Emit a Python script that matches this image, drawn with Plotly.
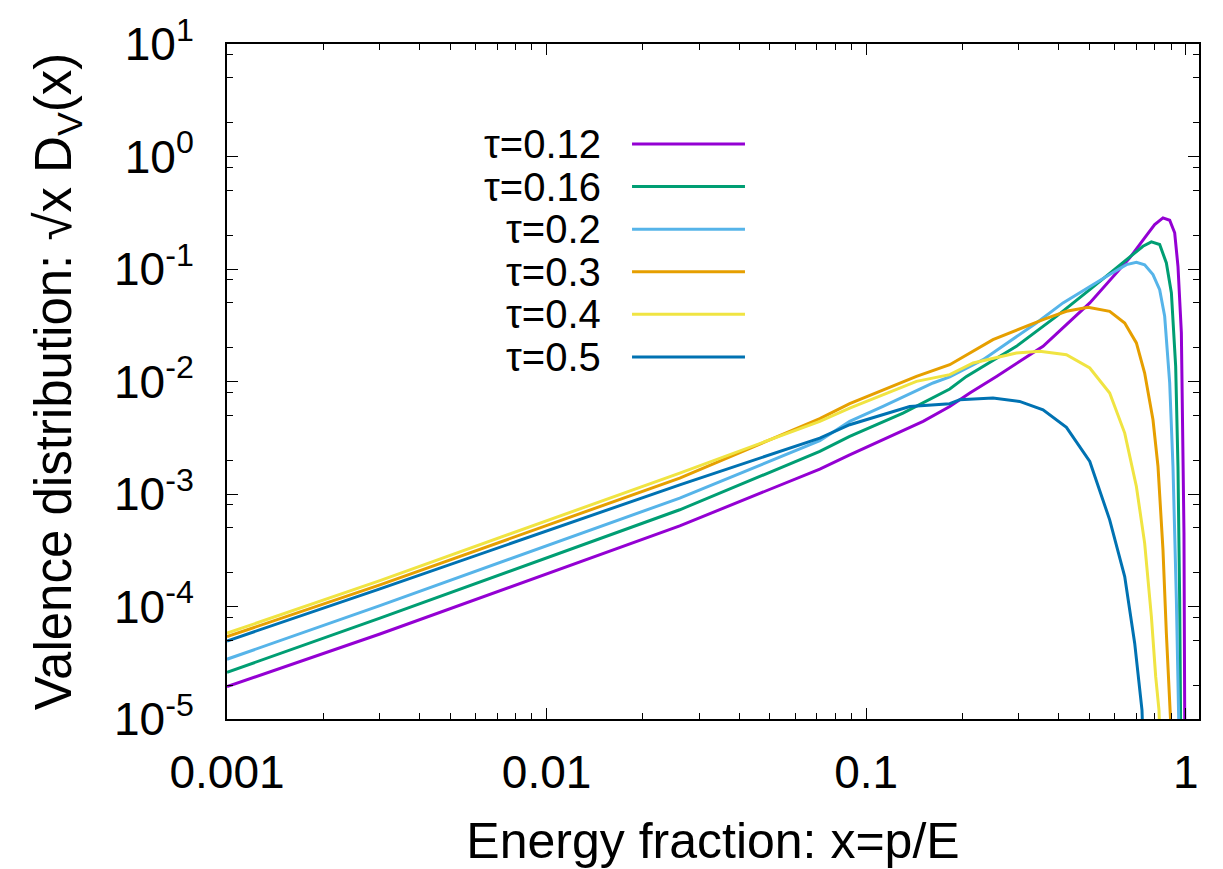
import plotly.graph_objects as go

# ---- data (x = p/E, y = sqrt(x) D_V(x)) ----
labels = ["τ=0.12", "τ=0.16", "τ=0.2", "τ=0.3", "τ=0.4", "τ=0.5"]
colors = ["#9400d3", "#009e73", "#56b4e9", "#e69f00", "#f0e442", "#0072b2"]

x_t012 = [0.001, 0.00301, 0.0261, 0.0716, 0.0888, 0.1507, 0.1826, 0.211, 0.2557, 0.3576,
          0.5008, 0.6678, 0.7436, 0.7993, 0.8486, 0.8906, 0.9232, 0.9454, 0.9687, 0.9799,
          0.9871, 0.9922, 0.9935]
y_t012 = [1.94e-5, 5.70e-5, 5.21e-4, 1.666e-3, 2.23e-3, 4.42e-3, 6.0e-3, 7.91e-3, 0.0111, 0.02053,
          0.04995, 0.1255, 0.1891, 0.2484, 0.285, 0.2713, 0.2097, 0.1057, 0.0272, 3.50e-3,
          4.52e-4, 1.2e-5, 8e-6]

x_t016 = [0.001, 0.00301, 0.0261, 0.0716, 0.0888, 0.1304, 0.1826, 0.206, 0.2952, 0.3937,
          0.5008, 0.6522, 0.7347, 0.7806, 0.8286, 0.8695, 0.9016, 0.9298, 0.9454, 0.957,
          0.9618, 0.964]
y_t016 = [2.60e-5, 7.87e-5, 7.24e-4, 2.39e-3, 3.25e-3, 5.24e-3, 8.58e-3, 0.0111, 0.02053, 0.03796,
          0.06559, 0.1213, 0.1593, 0.1743, 0.1649, 0.1133, 0.0613, 0.01363, 1.757e-3, 1.145e-4,
          1.2e-5, 8e-6]

x_t020 = [0.001, 0.00301, 0.0261, 0.0716, 0.0888, 0.1129, 0.1619, 0.1826, 0.2321, 0.3408,
          0.4129, 0.5008, 0.578, 0.6522, 0.7006, 0.7436, 0.7896, 0.8286, 0.859, 0.8906,
          0.912, 0.9346, 0.9502, 0.9518]
y_t020 = [3.40e-5, 1.019e-4, 9.2e-4, 2.975e-3, 4.42e-3, 6.0e-3, 9.70e-3, 0.01097, 0.01563, 0.03315,
          0.04995, 0.07019, 0.0892, 0.1094, 0.1147, 0.1088, 0.0892, 0.0656, 0.038, 9.70e-3,
          1.757e-3, 1.145e-4, 1.2e-5, 8e-6]

x_t030 = [0.001, 0.00301, 0.0261, 0.0716, 0.0888, 0.1437, 0.1826, 0.2493, 0.3576, 0.4232,
          0.4945, 0.578, 0.6441, 0.7006, 0.7436, 0.7896, 0.8186, 0.8486, 0.8695, 0.8951, 0.8993]
y_t030 = [5.40e-5, 1.557e-4, 1.385e-3, 4.67e-3, 6.35e-3, 0.0111, 0.01411, 0.02355, 0.03548, 0.04206,
          0.04565, 0.04206, 0.03315, 0.02202, 0.0119, 4.57e-3, 1.757e-3, 3.19e-4, 5.79e-5, 1.2e-5, 8e-6]

x_t040 = [0.001, 0.00301, 0.0261, 0.0716, 0.0888, 0.1437, 0.1826, 0.2161, 0.2952, 0.3491,
          0.4232, 0.5008, 0.578, 0.6441, 0.7006, 0.7436, 0.7806, 0.8052, 0.8245, 0.8285]
y_t040 = [5.79e-5, 1.70e-4, 1.535e-3, 4.42e-3, 5.81e-3, 0.01002, 0.0115, 0.01461, 0.01793, 0.01853,
          0.01732, 0.01319, 7.91e-3, 3.48e-3, 1.166e-3, 3.66e-4, 8.13e-5, 2.38e-5, 1.2e-5, 8e-6]

x_t050 = [0.001, 0.00301, 0.0261, 0.0716, 0.0888, 0.1369, 0.1826, 0.1963, 0.2493, 0.302,
          0.3576, 0.4232, 0.5008, 0.578, 0.6441, 0.6921, 0.7295, 0.733]
y_t050 = [4.94e-5, 1.435e-4, 1.207e-3, 3.14e-3, 4.13e-3, 6.0e-3, 6.35e-3, 6.89e-3, 7.13e-3, 6.65e-3,
          5.61e-3, 3.91e-3, 1.946e-3, 5.89e-4, 1.845e-4, 4.72e-5, 1.2e-5, 8e-6]

xs = [x_t012, x_t016, x_t020, x_t030, x_t040, x_t050]
ys = [y_t012, y_t016, y_t020, y_t030, y_t040, y_t050]

x_tickvals = [0.001, 0.01, 0.1, 1]
x_ticktext = ["0.001", "0.01", "0.1", "1"]
y_tickvals = [1e-5, 1e-4, 1e-3, 1e-2, 1e-1, 1, 10]
y_ticktext = ["10<sup>-5</sup>", "10<sup>-4</sup>", "10<sup>-3</sup>", "10<sup>-2</sup>",
              "10<sup>-1</sup>", "10<sup>0</sup>", "10<sup>1</sup>"]
x_minor = [m * 10.0 ** k for k in (-3, -2, -1) for m in range(2, 10)]
y_minor = [m * 10.0 ** k for k in range(-5, 1) for m in (2, 5, 8)]

FONT = "Liberation Sans, Arial, Helvetica, sans-serif"

fig = go.Figure()
for lab, col, xv, yv in zip(labels, colors, xs, ys):
    fig.add_trace(go.Scatter(x=xv, y=yv, mode="lines", name=lab,
                             line=dict(color=col, width=3), showlegend=False))

# manual gnuplot-style key (text right, sample line left)
key_text_x = 0.3868
key_line_x0, key_line_x1 = 0.4167, 0.5329
key_y0, key_dy = 0.8519, 0.0631
for i, (lab, col) in enumerate(zip(labels, colors)):
    yy = key_y0 - i * key_dy
    fig.add_annotation(x=key_text_x, y=yy, xref="paper", yref="paper", text=lab,
                       showarrow=False, xanchor="right", yanchor="middle",
                       font=dict(size=40, color="black", family=FONT))
    fig.add_shape(type="line", xref="paper", yref="paper", x0=key_line_x0, x1=key_line_x1,
                  y0=yy, y1=yy, line=dict(color=col, width=3))

axis_common = dict(showline=True, linecolor="black", linewidth=2, mirror="ticks",
                   ticks="inside", ticklen=11, tickwidth=1, tickcolor="black",
                   showgrid=False, zeroline=False,
                   tickfont=dict(size=46, color="black", family=FONT))

fig.update_xaxes(type="log", range=[-3, 0.0414], tickmode="array",
                 tickvals=x_tickvals, ticktext=x_ticktext,
                 minor=dict(tickmode="array", tickvals=x_minor, ticks="inside",
                            ticklen=6, tickwidth=1, tickcolor="black"),
                 title=dict(text="Energy fraction: x=p/E", standoff=32,
                            font=dict(size=50, color="black", family=FONT)),
                 ticklabelstandoff=12,
                 **axis_common)
fig.update_yaxes(type="log", range=[-5, 1], tickmode="array",
                 tickvals=y_tickvals, ticktext=y_ticktext,
                 minor=dict(tickmode="array", tickvals=y_minor, ticks="inside",
                            ticklen=6, tickwidth=1, tickcolor="black"),
                 title=dict(text="Valence distribution: √x D<sub>V</sub>(x)", standoff=26,
                            font=dict(size=51, color="black", family=FONT)),
                 ticklabelstandoff=22,
                 **axis_common)

fig.update_layout(width=1223, height=869, paper_bgcolor="white", plot_bgcolor="white",
                  margin=dict(l=227, r=24, t=44, b=150, autoexpand=False),
                  font=dict(family=FONT, color="black"))

fig.write_html("out.html", config={"displayModeBar": False})
